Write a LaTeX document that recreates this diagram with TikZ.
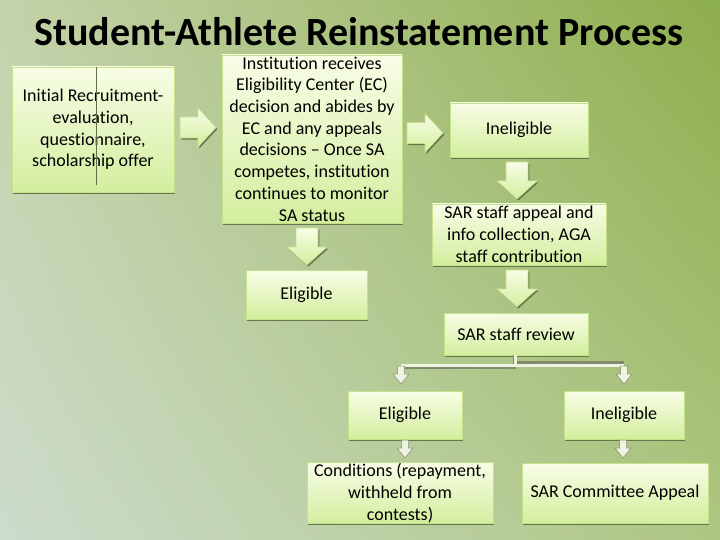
\documentclass[tikz,border=0pt]{standalone}
\usepackage{fontspec}
\setmainfont{Carlito}[Ligatures=NoCommon]
\usetikzlibrary{shadows,shadings}
\definecolor{bgTL}{HTML}{C4D3AA}
\definecolor{bgTR}{HTML}{8DAE4C}
\definecolor{bgBL}{HTML}{CCDCCC}
\definecolor{bgBR}{HTML}{AEC682}
\definecolor{boxtop}{HTML}{F8FDE6}
\definecolor{boxbot}{HTML}{D3EE9E}
\definecolor{boxedge}{HTML}{C4E28A}
\definecolor{shadowc}{HTML}{5E6E46}
\definecolor{whitearr}{HTML}{EEF3E2}
\definecolor{greyarr}{HTML}{7E8C6C}
\tikzset{
  box/.style={rectangle, draw=boxedge, line width=0.6pt,
    top color=boxtop, bottom color=boxbot, align=center,
    font=\fontsize{18}{21.7}\selectfont, inner sep=1pt,
    drop shadow={shadow xshift=1.3pt, shadow yshift=-1.6pt, fill=shadowc, opacity=0.9}},
  blockarr/.style={draw=boxedge, line width=0.6pt, top color=boxtop, bottom color=boxbot,
    drop shadow={shadow xshift=1.3pt, shadow yshift=-1.6pt, fill=shadowc, opacity=0.9}},
  smallarr/.style={fill=whitearr, draw=greyarr, line width=0.5pt},
  rarrow/.pic={\path[blockarr] (0,-10.5) -- (18,-10.5) -- (18,-19.5) -- (36,0) -- (18,19.5) -- (18,10.5) -- (0,10.5) -- cycle;},
  darrow/.pic={\path[blockarr] (-11,0) -- (11,0) -- (11,19) -- (20,19) -- (0,37) -- (-20,19) -- (-11,19) -- cycle;},
  sarrow/.pic={\path[smallarr] (-3.5,0) -- (3.5,0) -- (3.5,8) -- (8,8) -- (0,18) -- (-8,8) -- (-3.5,8) -- cycle;},
}
\begin{document}
\begin{tikzpicture}[x=1pt,y=-1pt]
\useasboundingbox (0,0) rectangle (720,540);
\shade[upper left=bgTL, upper right=bgTR, lower left=bgBL, lower right=bgBR] (0,0) rectangle (720,540);

\node[font=\fontsize{40}{44}\selectfont\bfseries] (title) at (359,32) {Student-Athlete Reinstatement Process};

\node[box, minimum width=162pt, minimum height=125pt] (init) at (93,129.5)
  {Initial Recruitment-\\evaluation,\\questionnaire,\\scholarship offer};
\draw[shadowc, line width=0.6pt] (96,67) -- (96,185);

\node[box, minimum width=180pt, minimum height=168pt] (inst) at (312,139)
  {Institution receives\\Eligibility Center (EC)\\decision and abides by\\EC and any appeals\\decisions -- Once SA\\competes, institution\\continues to monitor\\SA status};

\node[box, minimum width=121pt, minimum height=49pt] (elig1) at (306.5,294.5) {Eligible};
\node[box, minimum width=138pt, minimum height=54pt] (inel1) at (519,130) {Ineligible};
\node[box, minimum width=174pt, minimum height=61pt] (sarapp) at (519,234.5)
  {SAR staff appeal and\\info collection, AGA\\staff contribution};
\node[box, minimum width=144pt, minimum height=42pt] (sarrev) at (516,334) {SAR staff review};
\node[box, minimum width=114pt, minimum height=48pt] (elig2) at (405,415) {Eligible};
\node[box, minimum width=120pt, minimum height=48pt] (inel2) at (624,415) {Ineligible};
\node[box, minimum width=186pt, minimum height=60pt] (cond) at (400,493)
  {Conditions (repayment,\\withheld from\\contests)};
\node[box, minimum width=186pt, minimum height=60pt] (comm) at (615,493) {SAR Committee Appeal};

% block arrows
\pic at (180,127.5) {rarrow};
\pic at (407,133) {rarrow};
\pic at (307,228) {darrow};
\pic at (517,162) {darrow};
\pic at (517,270) {darrow};

% branch connector
\coordinate (bj) at (515,365);
\coordinate (bl) at (401,365);
\coordinate (br) at (624,365);
\draw[greyarr, line width=3pt] ([xshift=-1pt]sarrev.south -| bj) -- ([xshift=-1pt,yshift=-2pt]bj) -- ([yshift=-2pt]bl);
\draw[greyarr, line width=3pt] ([yshift=2.5pt]bj) -- ([yshift=2.5pt]br);
\draw[whitearr, line width=3pt] (sarrev.south -| bj) -- (bj);
\draw[whitearr, line width=3pt] (bl) -- (br);
\pic at (401,366) {sarrow};
\pic at (624,366) {sarrow};
\pic at (405,440) {sarrow};
\pic at (623,440) {sarrow};
\end{tikzpicture}
\end{document}
